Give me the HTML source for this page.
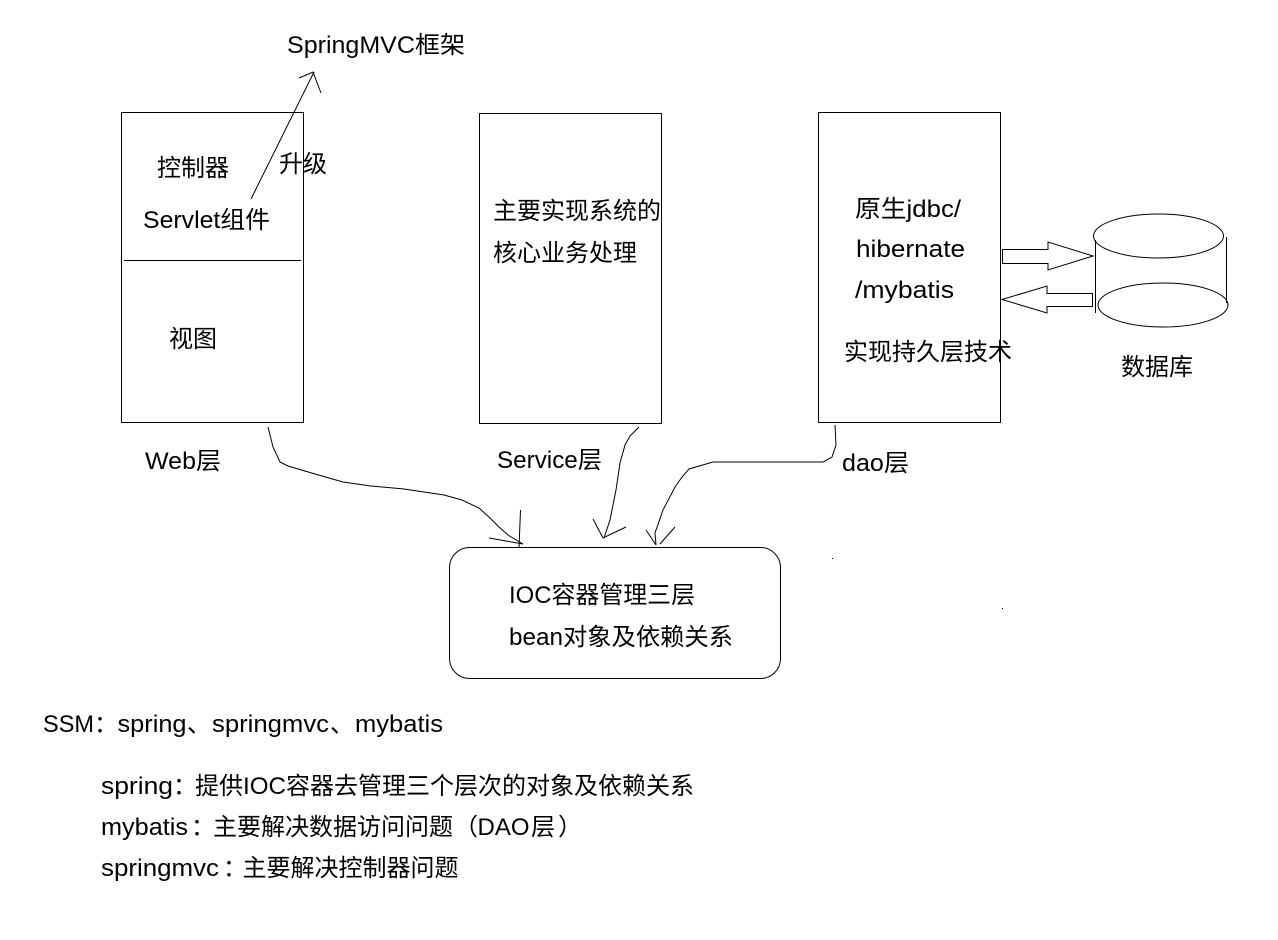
<!DOCTYPE html>
<html lang="zh">
<head>
<meta charset="utf-8">
<title>SSM</title>
<style>
html,body{margin:0;padding:0;background:#fff;width:1278px;height:940px;overflow:hidden}
svg{display:block}
text{font-family:"Liberation Sans","Noto Sans CJK SC",sans-serif;font-size:24px;fill:#000}
.b{fill:none;stroke:#000;stroke-width:1;shape-rendering:crispEdges}
.l{fill:none;stroke:#000;stroke-width:1}
</style>
</head>
<body>
<svg width="1278" height="940" viewBox="0 0 1278 940" xmlns="http://www.w3.org/2000/svg">
<rect class="b" x="121.5" y="112.5" width="182" height="310"/>
<line class="b" x1="124" y1="260.5" x2="301" y2="260.5"/>
<rect class="b" x="479.5" y="113.5" width="182" height="310"/>
<rect class="b" x="818.5" y="112.5" width="182" height="310"/>
<rect class="l" x="449.5" y="547.5" width="331" height="131" rx="20" ry="20"/>

<polyline class="l" points="251,199 314,72"/>
<polyline class="l" points="299,78 313,72 321,93"/>

<polyline class="l" points="268,427 273,447 280,462 288,466 315,474 343,482 371,486 404,489 444,495 462,500 479,508 490,518 499,527 508,535 523,544"/>
<polyline class="l" points="520.5,510 519,548"/>
<polyline class="l" points="489,538 523,544"/>

<polyline class="l" points="639,427 630,436 625,445 620,463 616,490 610,520 604,538"/>
<polyline class="l" points="593,519 603,538 626,527"/>

<polyline class="l" points="835,425 836,445 832,457 823,462 713,462 689,469 682,477 675,487 663,510 655,533 656,545"/>
<polyline class="l" points="646,530 656,545"/>
<polyline class="l" points="675,527 660,544"/>

<ellipse class="l" cx="1158.5" cy="236" rx="65" ry="22"/>
<ellipse class="l" cx="1163" cy="305" rx="65" ry="22"/>
<line class="b" x1="1095.5" y1="240" x2="1095.5" y2="313"/>
<line class="b" x1="1226.5" y1="237" x2="1226.5" y2="303"/>
<polygon class="l" points="1002.5,249.5 1048,249.5 1048,242 1093,256 1048,270 1048,263.5 1002.5,263.5"/>
<polygon class="l" points="1002,299.5 1047,286 1047,293.5 1092.5,293.5 1092.5,306.5 1047,306.5 1047,313"/>

<rect x="832" y="558" width="1" height="1" fill="#000"/>
<rect x="1002" y="608" width="1" height="1" fill="#000"/>

<text x="287" y="53" textLength="178" lengthAdjust="spacingAndGlyphs">SpringMVC框架</text>
<text x="157" y="176" textLength="72" lengthAdjust="spacingAndGlyphs">控制器</text>
<text x="279" y="172" textLength="48" lengthAdjust="spacingAndGlyphs">升级</text>
<text x="143" y="228" textLength="127" lengthAdjust="spacingAndGlyphs">Servlet组件</text>
<text x="169" y="347" textLength="48" lengthAdjust="spacingAndGlyphs">视图</text>
<text x="145" y="469" textLength="76" lengthAdjust="spacingAndGlyphs">Web层</text>

<text x="493" y="219" textLength="168" lengthAdjust="spacingAndGlyphs">主要实现系统的</text>
<text x="493" y="261" textLength="144" lengthAdjust="spacingAndGlyphs">核心业务处理</text>
<text x="497" y="468" textLength="105" lengthAdjust="spacingAndGlyphs">Service层</text>

<text x="855" y="217" textLength="106" lengthAdjust="spacingAndGlyphs">原生jdbc/</text>
<text x="856" y="257" textLength="109" lengthAdjust="spacingAndGlyphs">hibernate</text>
<text x="855" y="298" textLength="99" lengthAdjust="spacingAndGlyphs">/mybatis</text>
<text x="844" y="360" textLength="168" lengthAdjust="spacingAndGlyphs">实现持久层技术</text>
<text x="842" y="471" textLength="67" lengthAdjust="spacingAndGlyphs">dao层</text>

<text x="1121" y="375" textLength="72" lengthAdjust="spacingAndGlyphs">数据库</text>

<text x="509" y="603" textLength="186" lengthAdjust="spacingAndGlyphs">IOC容器管理三层</text>
<text x="509" y="645" textLength="224" lengthAdjust="spacingAndGlyphs">bean对象及依赖关系</text>

<text x="43" y="732" textLength="51" lengthAdjust="spacingAndGlyphs">SSM</text>
<text x="94" y="732">：</text>
<text x="117.5" y="732" textLength="69" lengthAdjust="spacingAndGlyphs">spring</text>
<text x="187" y="732">、</text>
<text x="212" y="732" textLength="117" lengthAdjust="spacingAndGlyphs">springmvc</text>
<text x="330" y="732">、</text>
<text x="355" y="732" textLength="88" lengthAdjust="spacingAndGlyphs">mybatis</text>

<text x="101" y="794" textLength="72" lengthAdjust="spacingAndGlyphs">spring</text>
<text x="173" y="794">：</text>
<text x="195" y="794">提供</text>
<text x="243" y="794" textLength="43" lengthAdjust="spacingAndGlyphs">IOC</text>
<text x="286" y="794" textLength="408" lengthAdjust="spacingAndGlyphs">容器去管理三个层次的对象及依赖关系</text>

<text x="101" y="835" textLength="87" lengthAdjust="spacingAndGlyphs">mybatis</text>
<text x="191" y="835">：</text>
<text x="213" y="835" textLength="240" lengthAdjust="spacingAndGlyphs">主要解决数据访问问题</text>
<text x="454" y="835">（</text>
<text x="477.5" y="835" textLength="52" lengthAdjust="spacingAndGlyphs">DAO</text>
<text x="531" y="835">层</text>
<text x="558" y="835">）</text>

<text x="101" y="876" textLength="118" lengthAdjust="spacingAndGlyphs">springmvc</text>
<text x="223" y="876">：</text>
<text x="242.5" y="876" textLength="216" lengthAdjust="spacingAndGlyphs">主要解决控制器问题</text>
</svg>
</body>
</html>
